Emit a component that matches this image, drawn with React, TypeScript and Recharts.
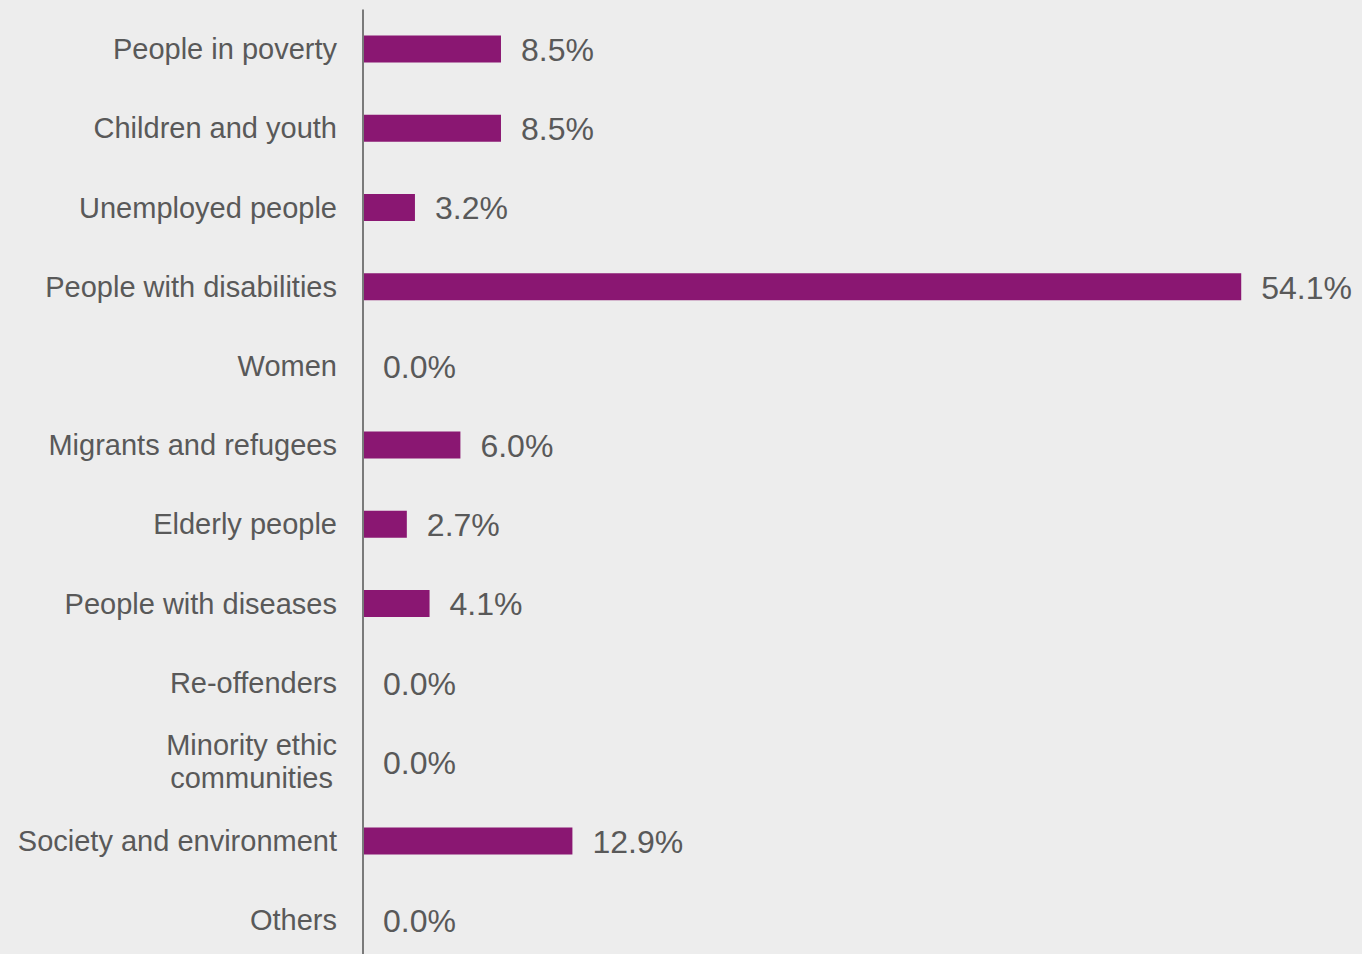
import React from 'react';
import { BarChart, Bar, XAxis, YAxis, LabelList, Cell } from 'recharts';

const categories = [
    'People in poverty',
    'Children and youth',
    'Unemployed people',
    'People with disabilities',
    'Women',
    'Migrants and refugees',
    'Elderly people',
    'People with diseases',
    'Re-offenders',
    'Minority ethic\ncommunities',
    'Society and environment',
    'Others',
];

const shares = [8.5, 8.5, 3.2, 54.1, 0.0, 6.0, 2.7, 4.1, 0.0, 0.0, 12.9, 0.0];

const data = categories.map((name, i) => ({ name, value: shares[i] }));

const TEXT = '#595959';
const FONT = '"Liberation Sans", Arial, sans-serif';
const TICK_SIZE = 29;

// rough text width so multi-line labels can be centred on their longest line
const measure = (s: string) => {
    const ctx = document.createElement('canvas').getContext('2d');
    if (!ctx) return s.length * TICK_SIZE * 0.5;
    ctx.font = `${TICK_SIZE}px ${FONT}`;
    return ctx.measureText(s).width;
};

// category names, right aligned; "\n" splits a label into centred lines
const CategoryTick = ({ x, y, payload }: any) => {
    const lines = String(payload.value).split('\n');
    const lineHeight = 33;
    const startY = y - ((lines.length - 1) * lineHeight) / 2;
    if (lines.length === 1) {
        return (
            <text x={x} y={y} textAnchor="end" fill={TEXT} fontSize={TICK_SIZE} fontFamily={FONT} dominantBaseline="central">
                {lines[0]}
            </text>
        );
    }
    const widest = Math.max(...lines.map(measure));
    const cx = x - widest / 2;
    return (
        <text x={cx} y={startY} textAnchor="middle" fill={TEXT} fontSize={TICK_SIZE} fontFamily={FONT} dominantBaseline="central">
            {lines.map((line, i) => (
                <tspan key={i} x={cx} y={startY + i * lineHeight}>{line}</tspan>
            ))}
        </text>
    );
};

// value label to the right of the bar end
const ValueLabel = (props: any) => {
    const { x, y, width, height, value } = props;
    const end = Number(value) === 0 ? Number(x) : Number(x) + Number(width || 0);
    return (
        <text
            x={end + 20}
            y={Number(y) + Number(height) / 2 + 1}
            fill={TEXT}
            fontSize={32}
            fontFamily={FONT}
            dominantBaseline="central"
        >
            {`${Number(value).toFixed(1)}%`}
        </text>
    );
};

const App: React.FC = () => {
    return (
        <div style={{
            position: 'absolute',
            top: 0,
            left: 0,
            width: 1362,
            height: 954,
            overflow: 'hidden',
            background: '#ededed'
        }}>
            <BarChart
                width={1362}
                height={960}
                data={data}
                layout="vertical"
                margin={{ top: 9.5, right: 25, left: 0, bottom: 0 }}
                barSize={27}
            >
                <XAxis type="number" domain={[0, 60]} hide />
                <YAxis
                    type="category"
                    dataKey="name"
                    width={363}
                    interval={0}
                    tickLine={false}
                    tickSize={0}
                    tickMargin={26}
                    axisLine={{ stroke: '#7a7a7a', strokeWidth: 2 }}
                    tick={<CategoryTick />}
                />
                {/* zero bars get a 1px transparent stub so their labels are still drawn */}
                <Bar dataKey="value" fill="#8a1772" isAnimationActive={false} minPointSize={1}>
                    {data.map((d, i) => (
                        <Cell key={i} fill={d.value === 0 ? 'transparent' : '#8a1772'} />
                    ))}
                    <LabelList dataKey="value" content={<ValueLabel />} />
                </Bar>
            </BarChart>
        </div>
    );
};

export default App;
